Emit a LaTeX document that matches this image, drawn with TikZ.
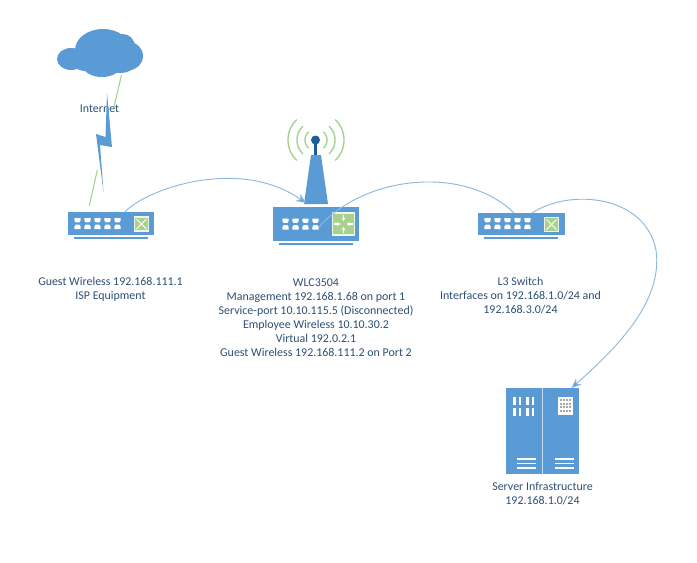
\documentclass[tikz,border=0pt]{standalone}
\usepackage{fontspec}
\setmainfont{Carlito}
\usetikzlibrary{arrows.meta}
\definecolor{devblue}{HTML}{5B9BD5}
\definecolor{darkblue}{HTML}{1F5F99}
\definecolor{linkblue}{HTML}{8DB9E0}
\definecolor{leaf}{HTML}{A9D18E}
\definecolor{labeltxt}{HTML}{2E4F73}
\tikzset{
  x=0.75pt,y=-0.75pt,
  labeltext/.style={align=center,font=\fontsize{8.95pt}{10.5pt}\selectfont,text=labeltxt,inner sep=0pt},
  devbody/.style={fill=devblue,draw=none},
  greenpanel/.style={fill=leaf,draw=white!80!leaf,line width=0.8pt},
  linkline/.style={draw=linkblue,line width=0.7pt},
  arrowline/.style={linkline,-{Stealth[length=7.5pt,width=6.5pt,fill=devblue]}},
  greenline/.style={draw=leaf,line width=0.8pt},
  radio/.style={draw=leaf,line width=1.05pt,line cap=round},
  cross/.style={white,line width=0.6pt}
}
\newcommand{\portcol}[2]{%
  \fill[white] (#1-3.2,#2) -- (#1+3.2,#2) -- (#1+3.2,#2+2.4) -- (#1+1.8,#2+4.4) -- (#1-1.8,#2+4.4) -- (#1-3.2,#2+2.4) -- cycle;
  \fill[white] (#1-3.2,#2+11) -- (#1+3.2,#2+11) -- (#1+3.2,#2+8.6) -- (#1+1.8,#2+6.6) -- (#1-1.8,#2+6.6) -- (#1-3.2,#2+8.6) -- cycle;
}
\newcommand{\slot}[2]{\fill[white] (#1,#2) rectangle (#1+2.6,#2+8);}
\newcommand{\radioarc}[1]{%
  \draw[radio] plot[domain=-46:46,samples=25] ({316+#1*cos(\x)},{140+#1*sin(\x)});
  \draw[radio] plot[domain=134:226,samples=25] ({316+#1*cos(\x)},{140+#1*sin(\x)});
}
\begin{document}
\begin{tikzpicture}
\useasboundingbox (0,0) rectangle (697,562);
\fill[white] (0,0) rectangle (697,562);

% cloud
\fill[devblue] (71,59) ellipse [x radius=14,y radius=11];
\fill[devblue] (86,60) ellipse [x radius=15,y radius=11];
\fill[devblue] (103,50) ellipse [x radius=28,y radius=21];
\fill[devblue] (102,64) ellipse [x radius=20,y radius=13];
\fill[devblue] (123,47) ellipse [x radius=12,y radius=13];
\fill[devblue] (129,56) ellipse [x radius=14,y radius=14];
\fill[devblue] (120,61) ellipse [x radius=17,y radius=12];
\coordinate (cloudout) at (121.5,75);
\coordinate (ispin) at (89.3,206);
\coordinate (boltA) at (114,107);
\coordinate (boltB) at (97.3,170);

% green link
\draw[greenline] (cloudout) -- (boltA);
\draw[greenline] (boltB) -- (ispin);

\node[labeltext] (internet) at (99.5,108.5) {Internet};

% bolt
\fill[devblue] (107,93) -- (112,147) -- (100,145) -- (103.5,192) -- (96,134) -- (105.5,137) -- cycle;

% device 1
\node[devbody,minimum width=64.5pt,minimum height=17.25pt,inner sep=0pt] (isp) at (111,223.5) {};
\fill[devblue] (74,237) rectangle (148,239);
\foreach \i in {0,...,4} {\portcol{77.5+\i*10}{218}}
\node[greenpanel,minimum width=10.5pt,minimum height=10.5pt,inner sep=0pt] (ispg) at (141.5,224) {};
\draw[cross] (136.5,219) -- (146.5,229) (136.5,229) -- (146.5,219);

% device 2 (WLC)
\radioarc{11}
\radioarc{19}
\radioarc{28}
\fill[devblue] (311,155) -- (321,155) -- (328,204) -- (304,204) -- cycle;
\fill[darkblue] (313.7,143) rectangle (317.3,155);
\fill[darkblue] (315.5,140) circle [radius=4.5];
\node[devbody,minimum width=64.5pt,minimum height=25.5pt,inner sep=0pt] (wlc) at (316,224) {};
\fill[devblue] (279,243) rectangle (353,245);
\foreach \i in {0,...,3} {\portcol{285.5+\i*10}{218.5}}
\node[greenpanel,minimum width=17pt,minimum height=16.5pt,inner sep=0pt] (wlcg) at (343.5,224) {};
\foreach \a/\b/\c/\d in {343.5/215/343.5/221, 343.5/233/343.5/227, 334/224/340.5/224, 353/224/346.5/224}
  \draw[white,line width=0.8pt,-{Stealth[length=2.6pt,width=3pt]}] (\a,\b) -- (\c,\d);

% device 3
\node[devbody,minimum width=65pt,minimum height=16.5pt,inner sep=0pt] (lthree) at (521.5,224) {};
\fill[devblue] (484,237) rectangle (558,239);
\foreach \i in {0,...,4} {\portcol{487.5+\i*10}{218}}
\node[greenpanel,minimum width=10.5pt,minimum height=10.5pt,inner sep=0pt] (lthreeg) at (551.5,224.5) {};
\draw[cross] (546.5,219.5) -- (556.5,229.5) (546.5,229.5) -- (556.5,219.5);

% server
\node[devbody,minimum width=54.75pt,minimum height=64.5pt,inner sep=0pt] (server) at (542.5,431) {};
\draw[white!65!devblue,line width=1pt] (542.5,388) -- (542.5,474);
\foreach \x in {513,518.5,526,531.5} {\slot{\x}{397}\slot{\x}{408}}
\fill[white] (558,397) rectangle (573,415);
\foreach \i in {0,...,3}\foreach \j in {0,...,3}
  \fill[gray!70] (559.5+\i*3.2,399+\j*3.6) rectangle ++(2.2,2.2);
\foreach \x in {517,555}\foreach \y in {457.8,462.5,467}
  \fill[white] (\x,\y) rectangle ++(18.5,1.7);

% connectors
\coordinate (ispo) at ([xshift=10.5pt]isp.north);
\draw[arrowline] (ispo) .. controls (148,188) and (240,157) .. (306,203);
\coordinate (wlco) at (319,227);
\draw[linkline] (wlco) .. controls (365,175) and (465,165) .. (514,213);
\draw[arrowline] (532,213) .. controls (570,188) and (645,195) .. (656,250) .. controls (663,300) and (620,345) .. (571.5,388);

% labels
\node[labeltext] (ispl) at (110.5,289) {Guest Wireless 192.168.111.1\\ISP Equipment};
\node[labeltext] (wlcl) at (316,318) {WLC3504\\Management 192.168.1.68 on port 1\\Service-port 10.10.115.5 (Disconnected)\\Employee Wireless 10.10.30.2\\Virtual 192.0.2.1\\Guest Wireless 192.168.111.2 on Port 2};
\node[labeltext] (l3l) at (520.5,295.5) {L3 Switch\\Interfaces on 192.168.1.0/24 and\\192.168.3.0/24};
\node[labeltext] (serverl) at (542.5,494) {Server Infrastructure\\192.168.1.0/24};
\end{tikzpicture}
\end{document}
